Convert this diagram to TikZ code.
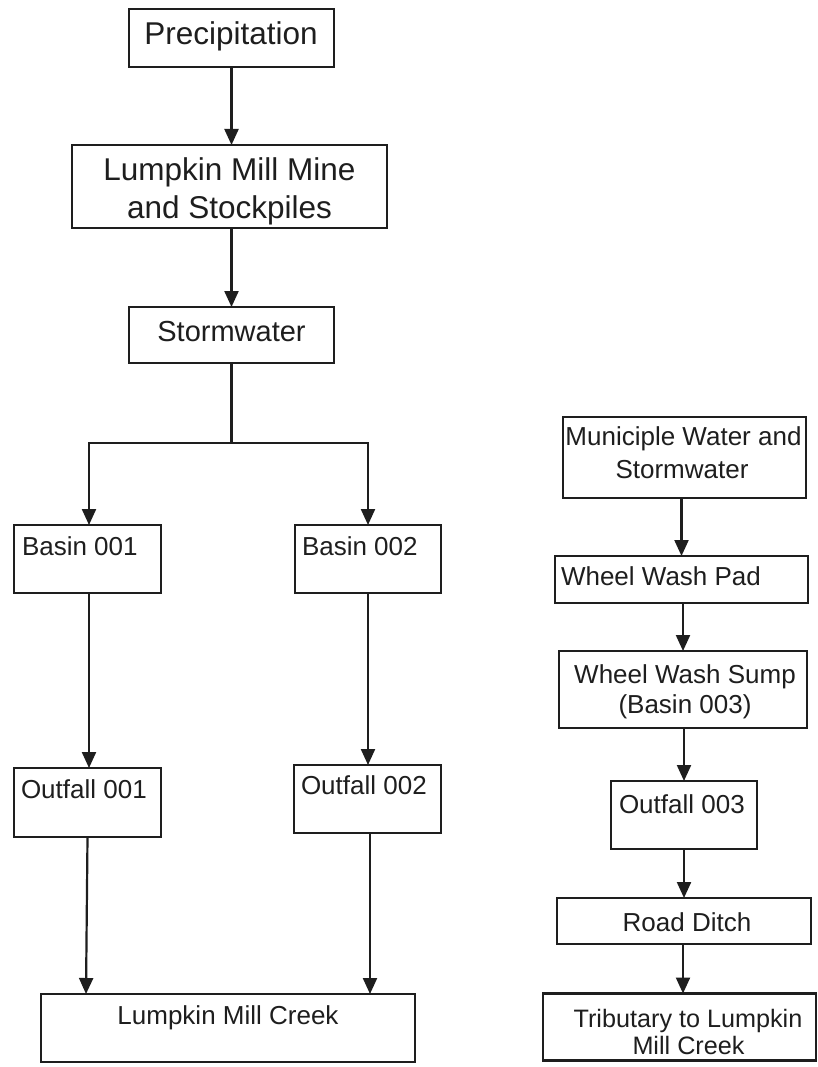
\documentclass[tikz,border=0pt]{standalone}
\usepackage{fontspec}
\setmainfont{Liberation Sans}
\usetikzlibrary{arrows.meta}
\definecolor{ink}{HTML}{1E1E1E}
\tikzset{
  box/.style={draw=ink, line width=2.2pt, rectangle, inner sep=0pt, outer sep=0pt},
  lbl/.style={inner sep=0pt, outer sep=0pt, text=ink},
  big/.style={font=\fontsize{31.5}{36}\selectfont},
  mid/.style={font=\fontsize{29}{34}\selectfont},
  std/.style={font=\fontsize{26}{30}\selectfont},
  arr/.style={draw=ink, line width=2.2pt, -{Triangle[length=16pt,width=14pt]}},
  ln/.style={draw=ink, line width=2.2pt}
}
\begin{document}
\begin{tikzpicture}[x=1pt,y=-1pt]
\useasboundingbox (0,0) rectangle (817,1067);
\fill[white] (0,0) rectangle (817,1067);
% boxes
\node[box, minimum width=205pt, minimum height=58pt] (prec) at (231.5,38) {};
\node[box, minimum width=315pt, minimum height=83pt] (mine) at (229.5,186.5) {};
\node[box, minimum width=205pt, minimum height=56pt] (storm) at (231.5,335) {};
\node[box, minimum width=147pt, minimum height=68pt] (b1) at (87.5,559) {};
\node[box, minimum width=146pt, minimum height=68pt] (b2) at (368,559) {};
\node[box, minimum width=147pt, minimum height=69pt] (o1) at (87.5,802.5) {};
\node[box, minimum width=147pt, minimum height=68pt] (o2) at (367.5,799) {};
\node[box, minimum width=374pt, minimum height=68pt] (creek) at (228,1028) {};
\node[box, minimum width=243pt, minimum height=81pt] (muni) at (684.5,457.5) {};
\node[box, minimum width=253pt, minimum height=47pt] (pad) at (681.5,579.5) {};
\node[box, minimum width=248pt, minimum height=77pt] (sump) at (683,689.5) {};
\node[box, minimum width=146pt, minimum height=68pt] (o3) at (684,815) {};
\node[box, minimum width=254pt, minimum height=46pt] (ditch) at (684,921) {};
\node[box, minimum width=273pt, minimum height=67pt] (trib) at (679.5,1027) {};
% texts
\node[lbl, big, anchor=base] (precT) at (231,44.5) {Precipitation};
\node[lbl, big, anchor=base] (mineT1) at (229.5,181) {Lumpkin Mill Mine};
\node[lbl, big, anchor=base] (mineT2) at (229.5,219) {and Stockpiles};
\node[lbl, mid, anchor=base] (stormT) at (231.5,341) {Stormwater};
\node[lbl, std, anchor=base west] (b1T) at (22,555.5) {Basin 001};
\node[lbl, std, anchor=base west] (b2T) at (302,555.5) {Basin 002};
\node[lbl, std, anchor=base west] (o1T) at (21,798.5) {Outfall 001};
\node[lbl, std, anchor=base west] (o2T) at (301,794.5) {Outfall 002};
\node[lbl, std, anchor=base] (creekT) at (228,1024.5) {Lumpkin Mill Creek};
\node[lbl, std, anchor=base] (muniT1) at (683.5,445) {Municiple Water and};
\node[lbl, std, anchor=base] (muniT2) at (682,478) {Stormwater};
\node[lbl, std, anchor=base west] (padT) at (561,585.5) {Wheel Wash Pad};
\node[lbl, std, anchor=base] (sumpT1) at (685,683) {Wheel Wash Sump};
\node[lbl, std, anchor=base] (sumpT2) at (685,713.5) {(Basin 003)};
\node[lbl, std, anchor=base west] (o3T) at (619,813.5) {Outfall 003};
\node[lbl, std, anchor=base] (ditchT) at (687,931.5) {Road Ditch};
\node[lbl, std, anchor=base, font=\fontsize{25.2}{30}\selectfont] (tribT1) at (688,1027) {Tributary to Lumpkin};
\node[lbl, std, anchor=base, font=\fontsize{25.2}{30}\selectfont] (tribT2) at (688.5,1054) {Mill Creek};
% connectors
\coordinate (split) at (231.5,443);
\draw[arr] (prec.south) -- (prec.south |- mine.north);
\draw[arr] (prec.south |- mine.south) -- (prec.south |- storm.north);
\draw[ln] (storm.south) -- (split);
\draw[arr] (split) -| ([xshift=1.5pt]b1.north);
\draw[arr] (split) -| (b2.north);
\draw[arr] ([xshift=1.5pt]b1.south) -- ([xshift=1.5pt]o1.north);
\draw[arr] (b2.south) -- (b2.south |- o2.north);
\draw[arr] (o1.south) -- ([xshift=-1.5pt]o1.south |- creek.north);
\draw[arr] ([xshift=2.5pt]o2.south) -- ([xshift=2.5pt]o2.south |- creek.north);
\draw[arr] (pad.north |- muni.south) -- (pad.north);
\draw[arr] (sump.north |- pad.south) -- (sump.north);
\draw[arr] (o3.north |- sump.south) -- (o3.north);
\draw[arr] (o3.south) -- (o3.south |- ditch.north);
\draw[arr] ([xshift=-1pt]ditch.south) -- ([xshift=-1pt]ditch.south |- trib.north);
\end{tikzpicture}
\end{document}
